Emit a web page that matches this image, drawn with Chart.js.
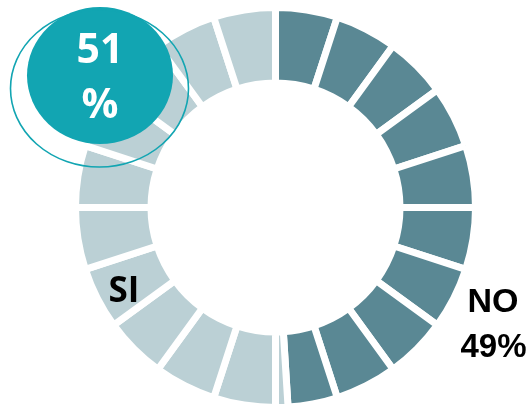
<!DOCTYPE html>
<html>
<head>
<meta charset="utf-8">
<script src="https://cdn.jsdelivr.net/npm/chart.js@4/dist/chart.umd.min.js"></script>
<style>
  html, body { margin: 0; padding: 0; background: #fff; }
  #wrap { width: 532px; height: 405px; }
</style>
</head>
<body>
<div id="wrap"><canvas id="c" width="532" height="405"></canvas></div>
<script>
// answer shares (percent)
const categories = ['NO', 'SI'];
const percents = [49, 51];

// ring of 20 equal blocks, block 10 split where NO ends (49% of 20 = 9.8)
const segmentValues = [1, 1, 1, 1, 1, 1, 1, 1, 1, 0.8, 0.2, 1, 1, 1, 1, 1, 1, 1, 1, 1, 1];
const segmentGroups = ['NO', 'NO', 'NO', 'NO', 'NO', 'NO', 'NO', 'NO', 'NO', 'NO',
  'SI', 'SI', 'SI', 'SI', 'SI', 'SI', 'SI', 'SI', 'SI', 'SI', 'SI'];

const groupColors = { NO: '#5a8894', SI: '#bbd0d5' };
const teal = '#12a5b2';

const labelsPlugin = {
  id: 'labels',
  afterDraw(chart) {
    const arc = chart.getDatasetMeta(0).data[0];
    const cx = arc.x, cy = arc.y;
    const ctx = chart.ctx;
    ctx.save();

    // bubble with the SI share
    ctx.fillStyle = teal;
    ctx.beginPath();
    ctx.ellipse(cx - 175.5, cy - 132, 73, 68.5, 0, 0, Math.PI * 2);
    ctx.fill();
    ctx.strokeStyle = teal;
    ctx.lineWidth = 1.6;
    ctx.beginPath();
    ctx.ellipse(cx - 176, cy - 119, 89, 78.5, 0, 0, Math.PI * 2);
    ctx.stroke();

    ctx.textAlign = 'center';
    ctx.textBaseline = 'alphabetic';
    ctx.fillStyle = '#fff';
    ctx.font = 'bold 41px "Open Sans", "Liberation Sans", sans-serif';
    ctx.fillText(String(percents[1]), cx - 175.5, cy - 144.5);
    ctx.fillText('%', cx - 175.5, cy - 89.5);

    // category labels
    ctx.fillStyle = '#000';
    ctx.font = 'bold 35px "Open Sans", "Liberation Sans", sans-serif';
    ctx.fillText(categories[1], cx - 151.5, cy + 94.5);
    ctx.font = 'bold 34px "Liberation Sans", Arial, sans-serif';
    ctx.fillText(categories[0], cx + 217.5, cy + 104.5);
    ctx.font = 'bold 33px "Liberation Sans", Arial, sans-serif';
    ctx.fillText(percents[0] + '%', cx + 218, cy + 149.5);

    ctx.restore();
  }
};

new Chart(document.getElementById('c'), {
  type: 'doughnut',
  data: {
    labels: segmentGroups,
    datasets: [{
      data: segmentValues,
      backgroundColor: segmentGroups.map(g => groupColors[g]),
      borderColor: '#ffffff',
      borderWidth: 7,
      hoverOffset: 0
    }]
  },
  options: {
    responsive: false,
    animation: false,
    radius: 200,
    cutout: '62.25%',
    layout: { padding: { top: 10, bottom: 0, left: 19, right: 0 } },
    plugins: {
      legend: { display: false },
      tooltip: { enabled: false }
    }
  },
  plugins: [labelsPlugin]
});
</script>
</body>
</html>
